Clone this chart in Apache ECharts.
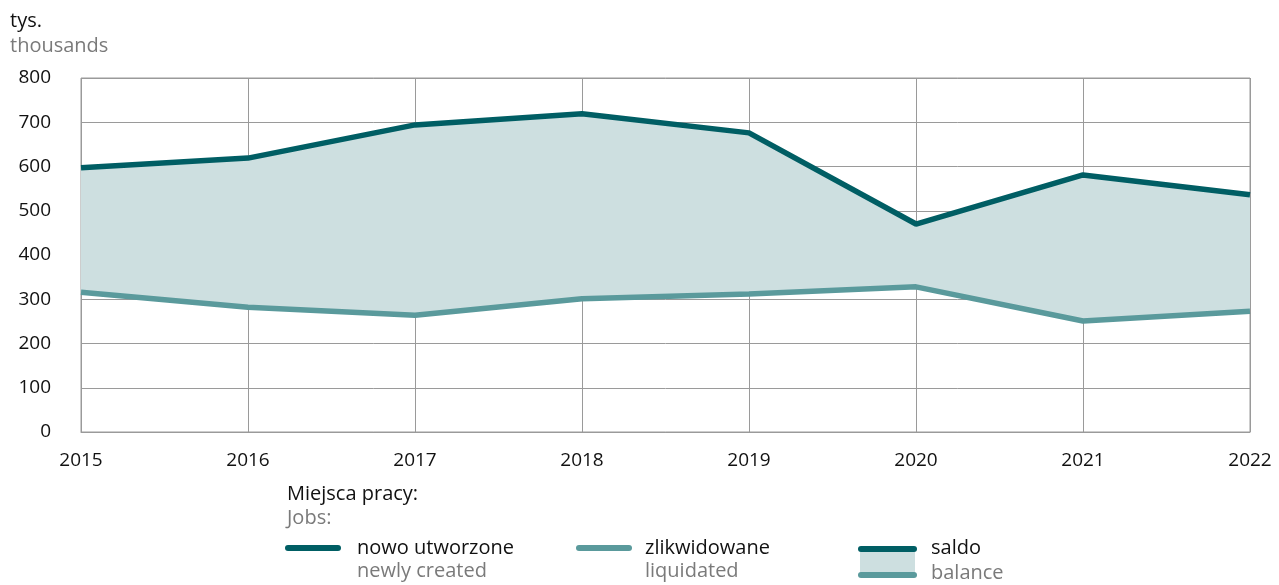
<!DOCTYPE html>
<html>
<head>
<meta charset="utf-8">
<script src="https://cdn.jsdelivr.net/npm/echarts@6/dist/echarts.min.js"></script>
<style>
  html, body { margin: 0; padding: 0; background: #fff; }
  #chart { width: 1279px; height: 585px; }
</style>
</head>
<body>
<div id="chart"></div>
<script>
const years = ['2015', '2016', '2017', '2018', '2019', '2020', '2021', '2022']
const created = [597, 619, 694, 719, 676, 470, 581, 536]
const liquidated = [316, 282, 264, 301, 312, 328, 251, 273]
const yTicks = { min: 0, max: 800, interval: 100 }

const DARK = '#005e64'
const MID = '#5a9a9c'
const FILL = '#cddfe0'
const FONT = '"Open Sans", "Noto Sans", sans-serif'

const balanceBand = created.map((v, i) => v - liquidated[i])

const chart = echarts.init(document.getElementById('chart'))

const option = {
  animation: false,
  textStyle: { fontFamily: FONT },
  grid: {
    left: 81, right: 29, top: 78, bottom: 153,
    show: true, borderColor: '#9a9a9a', borderWidth: 1, backgroundColor: 'transparent'
  },
  xAxis: {
    type: 'category',
    data: years,
    boundaryGap: false,
    axisLine: { show: true, lineStyle: { color: '#9a9a9a' } },
    axisTick: { show: false },
    axisLabel: { color: '#111', fontSize: 19, margin: 19, fontFamily: FONT },
    splitLine: { show: true, lineStyle: { color: '#9a9a9a', width: 1 } }
  },
  yAxis: {
    type: 'value',
    min: yTicks.min, max: yTicks.max, interval: yTicks.interval,
    axisLine: { show: false },
    axisTick: { show: false },
    axisLabel: { color: '#111', fontSize: 19, margin: 30, fontFamily: FONT },
    splitLine: { lineStyle: { color: '#9a9a9a', width: 1 } }
  },
  series: [
    {
      name: 'base',
      type: 'line',
      stack: 'band',
      data: liquidated,
      symbol: 'none',
      lineStyle: { opacity: 0 },
      areaStyle: { opacity: 0 },
      silent: true,
      z: 1
    },
    {
      name: 'saldo',
      type: 'line',
      stack: 'band',
      data: balanceBand,
      symbol: 'none',
      lineStyle: { opacity: 0 },
      areaStyle: { color: FILL, opacity: 1 },
      silent: true,
      z: 2
    },
    {
      name: 'zlikwidowane',
      type: 'line',
      data: liquidated,
      symbol: 'none',
      lineStyle: { color: MID, width: 5.5 },
      z: 3
    },
    {
      name: 'nowo utworzone',
      type: 'line',
      data: created,
      symbol: 'none',
      lineStyle: { color: DARK, width: 5.5 },
      z: 4
    }
  ],
  graphic: [
    { type: 'text', left: 10, top: 11, style: { text: 'tys.', fontSize: 20, fill: '#111', fontFamily: FONT } },
    { type: 'text', left: 10, top: 36, style: { text: 'thousands', fontSize: 20, fill: '#7a7a7a', fontFamily: FONT } },

    { type: 'text', left: 287, top: 484, style: { text: 'Miejsca pracy:', fontSize: 20, fill: '#111', fontFamily: FONT } },
    { type: 'text', left: 287, top: 508, style: { text: 'Jobs:', fontSize: 20, fill: '#7a7a7a', fontFamily: FONT } },

    { type: 'line', shape: { x1: 288, y1: 548, x2: 338, y2: 548 }, style: { stroke: DARK, lineWidth: 6, lineCap: 'round' } },
    { type: 'text', left: 357, top: 538, style: { text: 'nowo utworzone', fontSize: 20, fill: '#111', fontFamily: FONT } },
    { type: 'text', left: 357, top: 561, style: { text: 'newly created', fontSize: 20, fill: '#7a7a7a', fontFamily: FONT } },

    { type: 'line', shape: { x1: 579, y1: 548, x2: 629, y2: 548 }, style: { stroke: MID, lineWidth: 6, lineCap: 'round' } },
    { type: 'text', left: 645, top: 538, style: { text: 'zlikwidowane', fontSize: 20, fill: '#111', fontFamily: FONT } },
    { type: 'text', left: 645, top: 561, style: { text: 'liquidated', fontSize: 20, fill: '#7a7a7a', fontFamily: FONT } },

    { type: 'rect', shape: { x: 860, y: 549, width: 55, height: 26 }, style: { fill: FILL } },
    { type: 'line', shape: { x1: 861, y1: 549, x2: 914, y2: 549 }, style: { stroke: DARK, lineWidth: 6, lineCap: 'round' } },
    { type: 'line', shape: { x1: 861, y1: 575, x2: 914, y2: 575 }, style: { stroke: MID, lineWidth: 6, lineCap: 'round' } },
    { type: 'text', left: 931, top: 538, style: { text: 'saldo', fontSize: 20, fill: '#111', fontFamily: FONT } },
    { type: 'text', left: 931, top: 563, style: { text: 'balance', fontSize: 20, fill: '#7a7a7a', fontFamily: FONT } }
  ]
}

chart.setOption(option)
window.addEventListener('resize', () => chart.resize())
</script>
</body>
</html>
